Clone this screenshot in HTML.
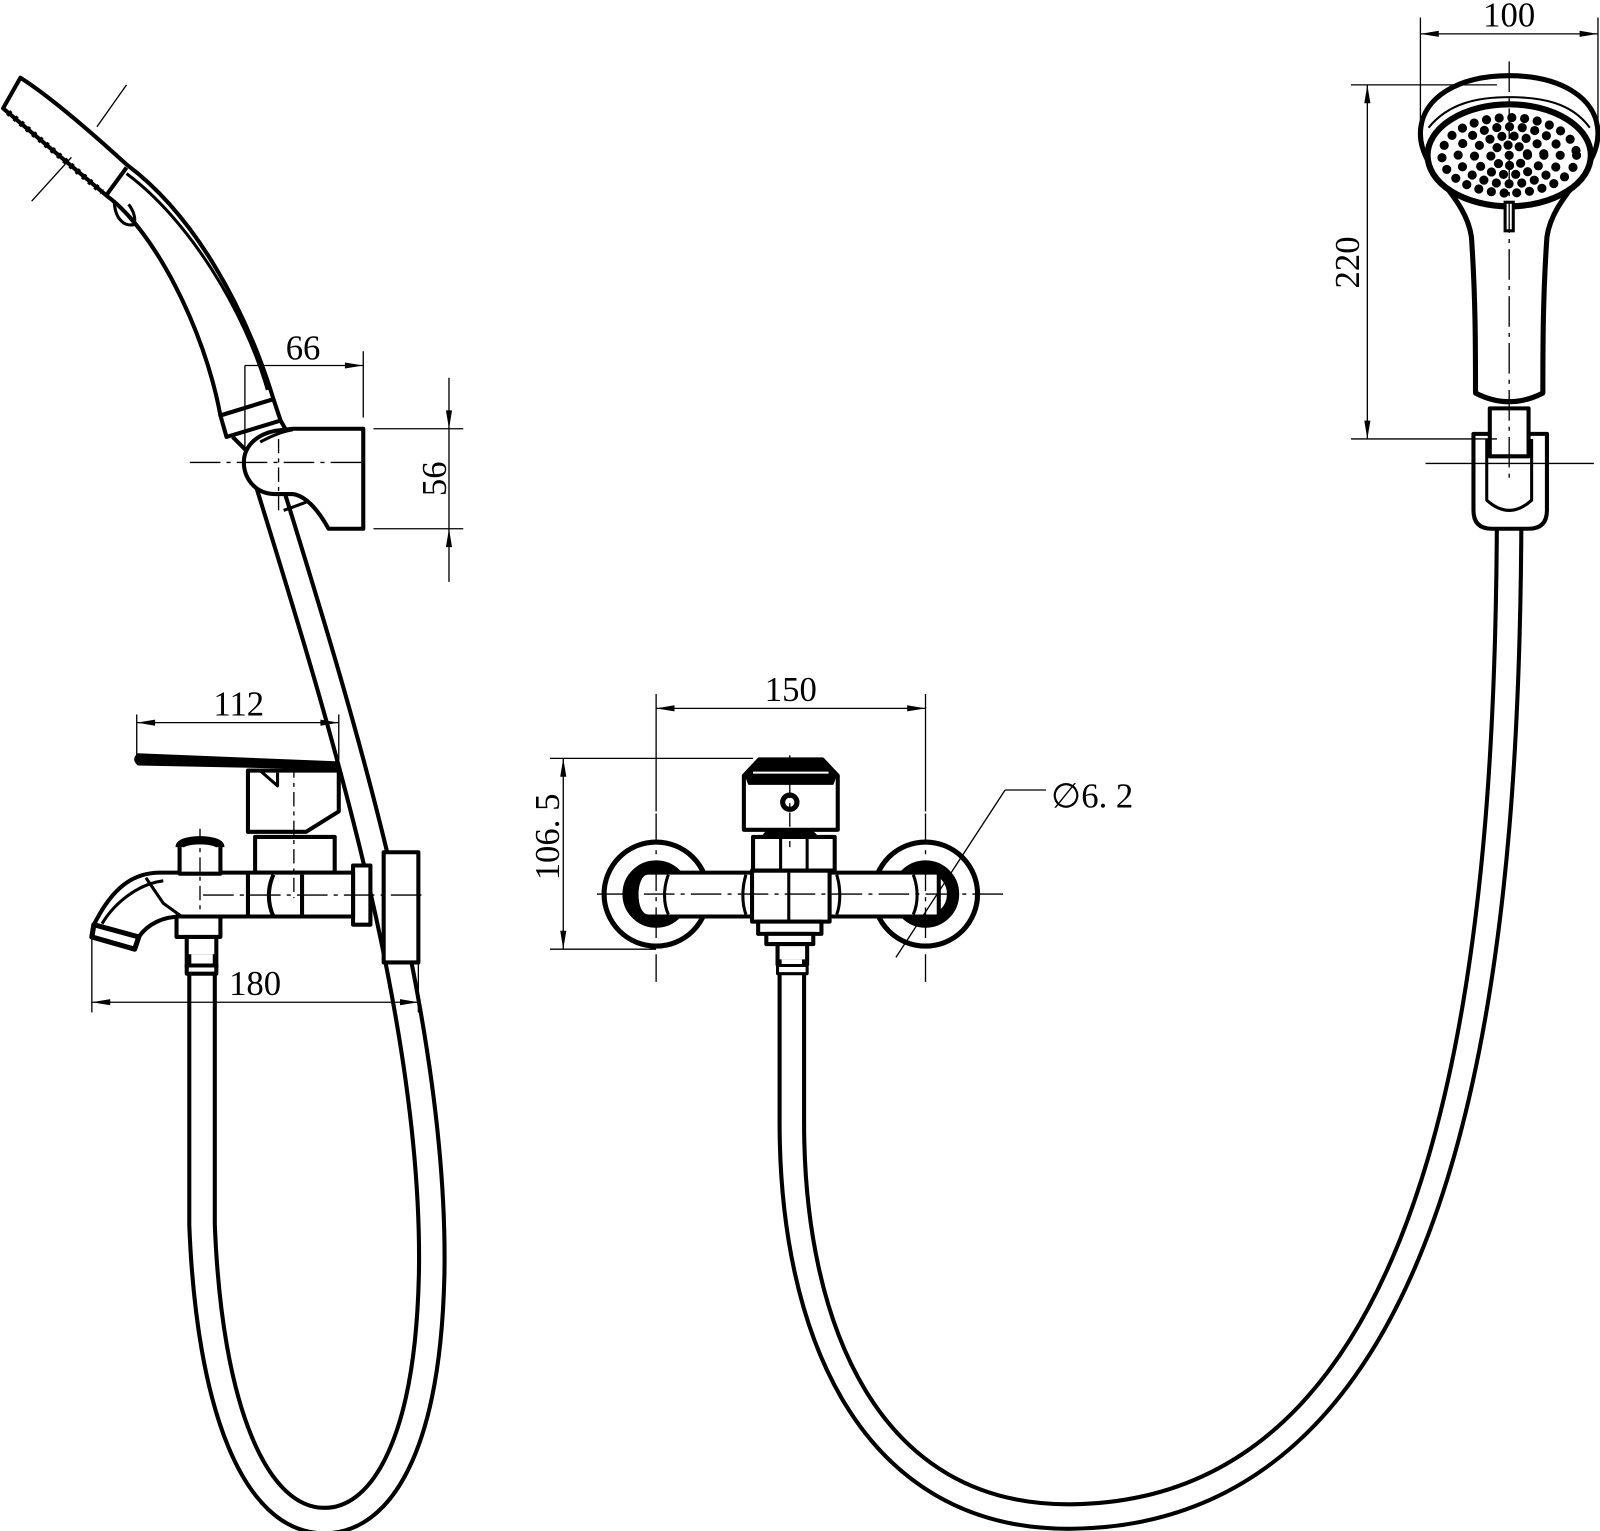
<!DOCTYPE html>
<html><head><meta charset="utf-8"><style>
html,body{margin:0;padding:0;background:#fff;}
svg{display:block;}
text{font-family:"Liberation Serif",serif;fill:#000;}
</style></head><body>
<svg width="1600" height="1531" viewBox="0 0 1568 1500" xmlns="http://www.w3.org/2000/svg">
<rect x="0" y="0" width="1568" height="1500" fill="#fff"/>

<!-- HOSES -->
<g fill="none" stroke-linecap="butt">
<path d="M262,470 C330,690 428,1000 423,1250 C419,1420 372,1490 318,1490 C250,1490 205,1380 198,1200 L198,935" stroke="#000" stroke-width="29"/>
<path d="M262,470 C330,690 428,1000 423,1250 C419,1420 372,1490 318,1490 C250,1490 205,1380 198,1200 L198,935" stroke="#fff" stroke-width="21"/>
<path d="M1479,470 C1480,900 1440,1482 1050,1486 C850,1488 776,1300 776,1100 L776,940" stroke="#000" stroke-width="28"/>
<path d="M1479,470 C1480,900 1440,1482 1050,1486 C850,1488 776,1300 776,1100 L776,940" stroke="#fff" stroke-width="20"/>
</g>

<!-- LEFT HANDSHOWER -->
<g stroke="#000" stroke-width="4" fill="#fff" stroke-linejoin="round">
<path d="M20,76 L3,106 L105,192 C150,225 200,320 216,407 L268,391 C240,300 190,210 124,161 C90,130 50,95 20,76 Z"/>
<path d="M124,170 C185,215 240,305 262,382" fill="none" stroke-width="3"/>
<path d="M124,164 L105,190" fill="none"/>
<path d="M112,196 C112,212 120,222 131,220 C134,214 130,205 126,200" fill="none" stroke-width="3"/>
<path d="M8,110 L100,188" fill="none" stroke-width="6" stroke-dasharray="3 5"/>
<polygon points="216,407 268,391 275,412 222,428"/>
<path d="M228,428 L250,450 M275,412 L283,426" fill="none"/>
<path d="M287,420 L356,420 L356,518 L322,518 C312,500 300,486 287,484 L270,484 C248,484 239,466 239,453 C239,438 250,426 270,422 Z"/>
<path d="M255,433 C270,425 280,422 287,421" fill="none" stroke-width="3"/>
<path d="M278,500 L300,492" fill="none" stroke-width="3"/>
</g>
<g stroke="#000" stroke-width="1.3" fill="none">
<line x1="31" y1="197" x2="70" y2="154"/><line x1="95" y1="124" x2="124" y2="83"/>
<line x1="186" y1="453" x2="360" y2="453" stroke-dasharray="30 6 4 6"/>
<line x1="273" y1="430" x2="273" y2="500" stroke-dasharray="14 5 4 5"/>
<line x1="366" y1="420" x2="454" y2="420"/><line x1="366" y1="518" x2="454" y2="518"/>
<line x1="440" y1="370" x2="440" y2="570"/>
<line x1="240" y1="358" x2="356" y2="358"/>
<line x1="356" y1="344" x2="356" y2="409"/><line x1="240" y1="358" x2="240" y2="440"/>
</g>
<g fill="#000">
<polygon points="440,420 437,402 443,402"/><polygon points="440,518 437,536 443,536"/>
<polygon points="356,358 338,355 338,361"/>
</g>
<text x="297" y="352" font-size="34" text-anchor="middle">66</text>
<text x="0" y="0" font-size="34" text-anchor="middle" transform="translate(437,469) rotate(-90)">56</text>

<!-- LEFT FAUCET -->
<g stroke="#000" stroke-width="4" fill="#fff" stroke-linejoin="round">
<rect x="376" y="835" width="34" height="108"/>
<rect x="346" y="848" width="17" height="58"/>
<path d="M243,755 L332,755 L332,795 L300,815 L243,815 Z"/>
<rect x="250" y="820" width="78" height="35"/>
<path d="M157,855 L346,855 L346,898 L178,898 C160,898 145,905 136,918 L92,906 C110,870 130,855 157,855 Z"/>
<path d="M92,906 L90,918 L132,930 L136,918 Z" stroke-width="5"/>
<path d="M160,863 C135,866 112,885 100,905" fill="none" stroke-width="3"/>
<path d="M143,860 L160,885 L178,898" fill="none" stroke-width="3"/>
<line x1="243" y1="855" x2="243" y2="898"/>
<path d="M268,857 C262,870 262,885 268,898 M296,857 L296,898" fill="none"/>
<rect x="176" y="826" width="40" height="30"/>
<path d="M176,830 C176,821 216,821 216,830" stroke-width="8"/>
<rect x="173" y="898" width="43" height="20"/>
<path d="M183,918 L183,948 M212,918 L212,948" fill="none"/>
<rect x="183" y="946" width="29" height="8"/>
<path d="M256,756 L272,770 L272,757" fill="none" stroke-width="3"/>
</g>
<path d="M135,738 L332,746 L332,754 L135,750 Q128,744 135,738 Z" fill="#000"/>
<g stroke="#000" stroke-width="1.3" fill="none">
<line x1="199" y1="877" x2="415" y2="877" stroke-dasharray="30 6 4 6"/>
<line x1="288" y1="748" x2="288" y2="880" stroke-dasharray="14 5 4 5"/>
<line x1="196" y1="812" x2="196" y2="900" stroke-dasharray="14 5 4 5"/>
<line x1="134" y1="708" x2="332" y2="708"/>
<line x1="134" y1="700" x2="134" y2="742"/><line x1="332" y1="700" x2="332" y2="745"/>
<line x1="90" y1="982" x2="410" y2="982"/>
<line x1="90" y1="920" x2="90" y2="992"/><line x1="410" y1="930" x2="410" y2="992"/>
</g>
<g fill="#000">
<polygon points="134,708 152,705 152,711"/><polygon points="332,708 314,705 314,711"/>
<polygon points="90,982 108,979 108,985"/><polygon points="410,982 392,979 392,985"/>
</g>
<text x="234" y="701" font-size="34" text-anchor="middle">112</text>
<text x="250" y="975" font-size="34" text-anchor="middle">180</text>

<!-- MIDDLE FAUCET -->
<g stroke="#000" fill="#fff" stroke-linejoin="round">
<circle cx="643" cy="876" r="51" stroke-width="5"/>
<circle cx="907" cy="876" r="51" stroke-width="5"/>
<circle cx="643" cy="876" r="27" stroke-width="12" fill="none"/>
<circle cx="907" cy="876" r="27" stroke-width="12" fill="none"/>
<path d="M635,855 L920,855 L920,898 L635,898 C620,898 620,855 635,855 Z" stroke-width="4"/>
<path d="M655,857 C650,870 650,885 655,896 M895,857 C900,870 900,885 895,896" fill="none" stroke-width="3"/>
<path d="M731,857 C727,870 727,885 731,896 M820,857 C824,870 824,885 820,896" fill="none" stroke-width="3"/>
<rect x="737" y="853" width="76" height="50" stroke-width="4"/>
<line x1="773" y1="855" x2="773" y2="903" stroke-width="3"/>
<rect x="743" y="903" width="62" height="12" stroke-width="4"/>
<rect x="751" y="915" width="46" height="10" stroke-width="4"/>
<path d="M762,925 L762,946 M791,925 L791,946" fill="none" stroke-width="4"/>
<rect x="762" y="946" width="29" height="8" stroke-width="3"/>
<rect x="738" y="820" width="80" height="33" stroke-width="4"/>
<path d="M765,820 L765,853 M791,820 L791,853" fill="none" stroke-width="3"/>
<path d="M748,820 C752,808 795,808 800,820" fill="#000" stroke-width="3"/>
<path d="M729,760 L744,744 L806,744 L821,760 L821,813 L729,813 Z" stroke-width="4"/>
<path d="M731,760 L744,744 L806,744 L819,760 L816,768 L734,768 Z" fill="#000" stroke-width="2"/>
<line x1="738" y1="757" x2="812" y2="757" stroke="#fff" stroke-width="2"/>
<circle cx="774" cy="786" r="7" stroke-width="5"/>
</g>
<g stroke="#000" stroke-width="1.3" fill="none">
<line x1="585" y1="876" x2="985" y2="876" stroke-dasharray="30 6 4 6"/>
<line x1="643" y1="797" x2="643" y2="962" stroke-dasharray="30 6 4 6"/>
<line x1="907" y1="797" x2="907" y2="962" stroke-dasharray="30 6 4 6"/>
<line x1="774" y1="740" x2="774" y2="830" stroke-dasharray="14 5 4 5"/>
<line x1="643" y1="694" x2="907" y2="694"/>
<line x1="643" y1="680" x2="643" y2="795"/><line x1="907" y1="680" x2="907" y2="795"/>
<line x1="552" y1="743" x2="552" y2="930"/>
<line x1="539" y1="743" x2="738" y2="743"/><line x1="539" y1="930" x2="643" y2="930"/>
<line x1="878" y1="938" x2="985" y2="774"/><line x1="985" y1="774" x2="1025" y2="774"/>
</g>
<g fill="#000">
<polygon points="643,694 661,691 661,697"/><polygon points="907,694 889,691 889,697"/>
<polygon points="552,743 549,761 555,761"/><polygon points="552,930 549,912 555,912"/>
</g>
<text x="775" y="687" font-size="34" text-anchor="middle">150</text>
<text x="0" y="0" font-size="34" text-anchor="middle" transform="translate(548,820) rotate(-90)">106. 5</text>
<text x="1030" y="791" font-size="34">∅6. 2</text>

<!-- RIGHT HANDSHOWER -->
<g stroke="#000" fill="#fff" stroke-linejoin="round">
<path d="M1444,425 L1516,425 L1516,500 Q1516,518 1498,518 L1462,518 Q1444,518 1444,500 Z" stroke-width="4"/>
<path d="M1457,430 L1457,490 Q1479,510 1501,490 L1501,430" fill="none" stroke-width="3"/>
<rect x="1460" y="400" width="38" height="47" stroke-width="4"/>
<path d="M1392,131 C1392,95 1430,74 1479,74 C1528,74 1566,95 1566,131 C1566,168 1522,190 1516,232 C1512,290 1512,340 1512,385 Q1479,402 1446,385 C1446,340 1446,290 1442,232 C1436,190 1392,168 1392,131 Z" stroke-width="5"/>
<ellipse cx="1479" cy="152" rx="80" ry="50" stroke-width="6"/>
<path d="M1400,125 C1420,100 1450,95 1479,95 C1510,95 1540,100 1558,125" fill="none" stroke-width="2"/>
</g>
<g fill="none" stroke="#000" stroke-linecap="round" stroke-width="9">
<ellipse cx="1479" cy="152" rx="66" ry="37" stroke-dasharray="0 12.5"/>
<ellipse cx="1479" cy="152" rx="50" ry="28" stroke-dasharray="0 12.5"/>
<ellipse cx="1479" cy="152" rx="34" ry="19" stroke-dasharray="0 12"/>
<ellipse cx="1479" cy="152" rx="18" ry="10" stroke-dasharray="0 11"/>
</g>
<circle cx="1479" cy="152" r="4.5" fill="#000"/>
<rect x="1475" y="198" width="8" height="28" fill="#fff" stroke="#000" stroke-width="3"/>
<g stroke="#000" stroke-width="1.3" fill="none">
<line x1="1479" y1="60" x2="1479" y2="470" stroke-dasharray="30 6 4 6"/>
<line x1="1397" y1="454" x2="1562" y2="454"/>
<line x1="1392" y1="33" x2="1566" y2="33"/>
<line x1="1392" y1="17" x2="1392" y2="131"/><line x1="1566" y1="17" x2="1566" y2="135"/>
<line x1="1340" y1="83" x2="1340" y2="430"/>
<line x1="1324" y1="83" x2="1467" y2="83"/><line x1="1324" y1="430" x2="1467" y2="430"/>
</g>
<g fill="#000">
<polygon points="1392,33 1410,30 1410,36"/><polygon points="1566,33 1548,30 1548,36"/>
<polygon points="1340,83 1337,101 1343,101"/><polygon points="1340,430 1337,412 1343,412"/>
</g>
<text x="1479" y="26" font-size="34" text-anchor="middle">100</text>
<text x="0" y="0" font-size="34" text-anchor="middle" transform="translate(1332,257) rotate(-90)">220</text>
</svg>
</body></html>
